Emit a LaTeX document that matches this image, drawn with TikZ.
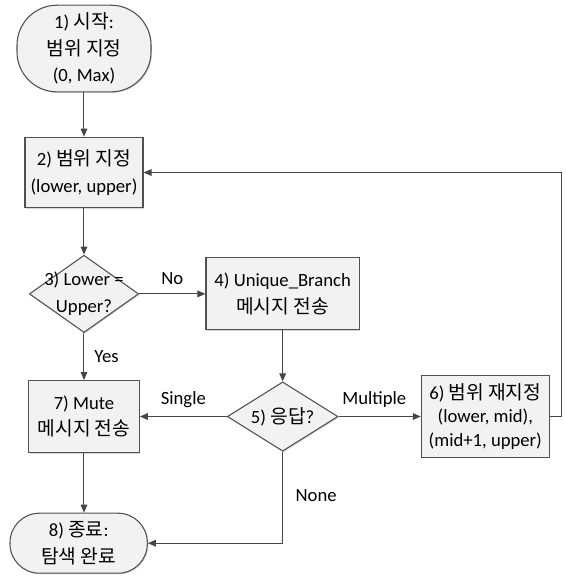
\documentclass[tikz,border=0pt]{standalone}
\usepackage{fontspec}
\setmainfont{Carlito}
\newfontfamily\kr{Noto Sans CJK KR}[Scale=1.03]
\usetikzlibrary{positioning,shapes.geometric,arrows.meta,shadows}

\definecolor{boxfill}{HTML}{F2F2F2}
\definecolor{boxline}{HTML}{505050}
\definecolor{arrline}{HTML}{464646}

\tikzset{
  box/.style={draw=boxline, fill=boxfill, line width=0.8pt, align=center,
    drop shadow={shadow xshift=0.8pt, shadow yshift=-0.8pt, fill=black!30}},
  process/.style={box, rectangle},
  terminal/.style={box, rectangle, rounded corners=30pt},
  decision/.style={box, diamond, inner sep=0pt},
  flow/.style={->, draw=arrline, line width=0.75pt}
}

\begin{document}
\begin{tikzpicture}[node distance=92pt, font=\fontsize{14}{20}\selectfont,
    >={Triangle[length=6pt,width=5pt]}]
  \useasboundingbox (-63pt,36.4pt) rectangle (361.5pt,-395.6pt);

  % Nodes
  \node[terminal, minimum width=100.5pt, minimum height=65pt] (Start)
    {1) {\kr 시작}:\\{\kr 범위 지정}\\(0, Max)};
  \node[process, below of=Start, yshift=-1pt, minimum width=88.5pt, minimum height=53pt] (Range)
    {2) {\kr 범위 지정}\\(lower, upper)};
  \node[decision, below of=Range, yshift=1pt, minimum width=82pt, minimum height=58pt,
    label={[align=center]center:3) Lower =\\Upper?}] (Dec3) {};
  \node[process, right of=Dec3, xshift=57pt, minimum width=115pt, minimum height=54pt] (Unique)
    {4) Unique\_Branch\\{\kr 메시지 전송}};

  % Second row
  \node[decision, below of=Unique, minimum width=83pt, minimum height=52pt,
    label={center:5) {\kr 응답}?}] (Dec5) {};
  \node[process, below of=Dec3, minimum width=83pt, minimum height=54pt] (Mute)
    {7) Mute\\{\kr 메시지 전송}};
  \node[process, right of=Dec5, xshift=60pt, minimum width=96pt, minimum height=61pt,
    font=\fontsize{14}{17.5}\selectfont] (Reassign)
    {6) {\kr 범위 재지정}\\(lower, mid),\\(mid+1, upper)};
  \node[terminal, below of=Mute, xshift=-4pt, yshift=-3pt, minimum width=103pt, minimum height=45pt,
    rounded corners=22pt] (End)
    {8) {\kr 종료}:\\{\kr 탐색 완료}};

  % Arrows
  \draw[flow] (Start) -- (Range);
  \draw[flow] (Range) -- (Dec3);
  \draw[flow] (Dec3) -- node[above, yshift=3pt] {No} (Unique);
  \draw[flow] (Dec3) -- node[right, xshift=4pt] {Yes} (Mute);
  \draw[flow] (Unique) -- (Dec5);
  \draw[flow] (Dec5) -- node[above, yshift=3pt] {Single} (Mute);
  \draw[flow] (Dec5) -- node[above, yshift=3pt, xshift=-4pt] {Multiple} (Reassign);
  \draw[flow] (Dec5) |- node[right, pos=0.24, xshift=6pt] {None} (End);
  \draw[flow] (Mute) -- (Mute |- End.north);

  \draw[flow] (Reassign.east) -- ++(9pt,0) |- (Range.east);
\end{tikzpicture}
\end{document}
